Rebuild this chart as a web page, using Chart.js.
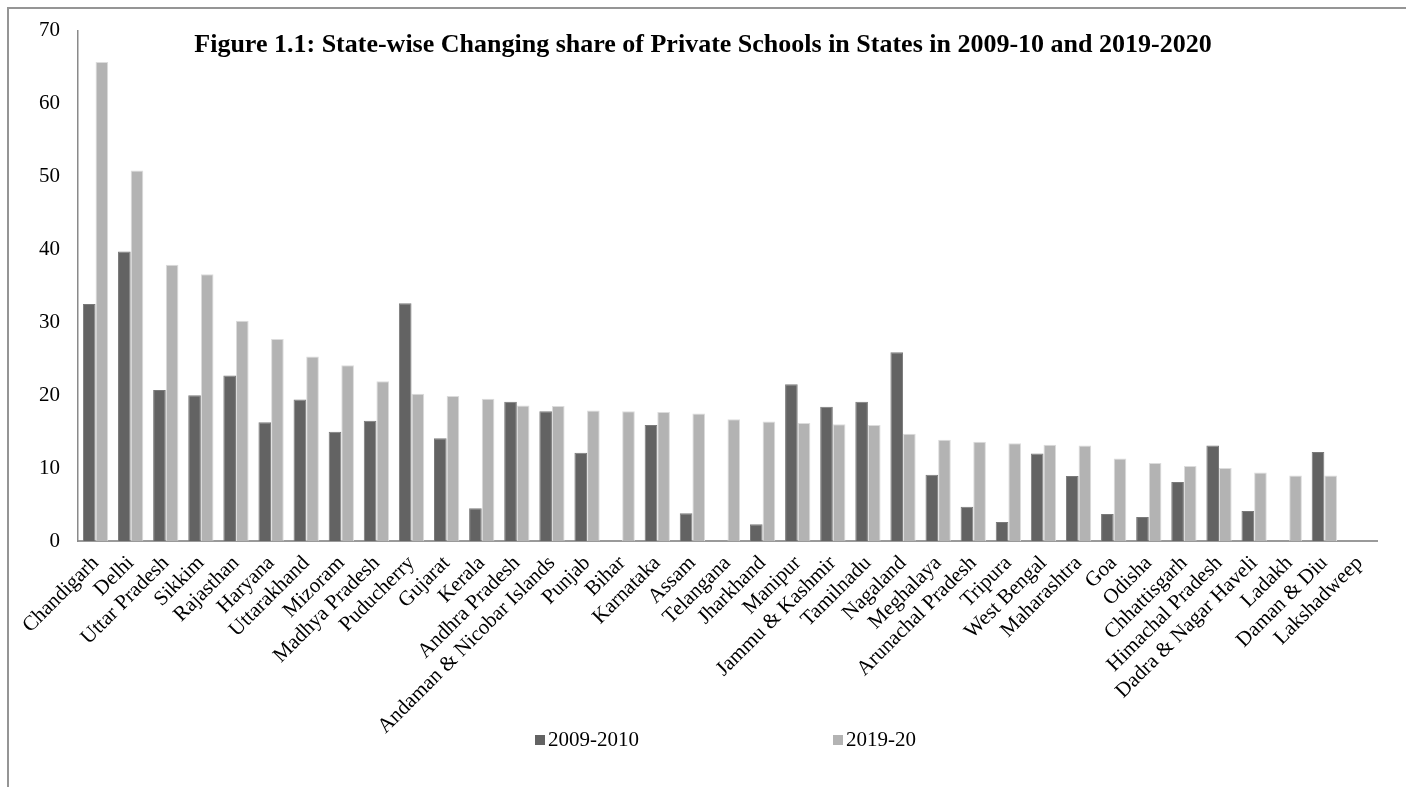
<!DOCTYPE html>
<html>
<head>
<meta charset="utf-8">
<script src="https://cdn.jsdelivr.net/npm/chart.js@4/dist/chart.umd.min.js"></script>
<style>
  html, body { margin: 0; padding: 0; background: #fff; }
  #wrap { position: relative; width: 1406px; height: 787px; overflow: hidden; }
  #frame { position: absolute; left: 7px; top: 7px; width: 1420px; height: 800px;
           border-left: 2px solid #959595; border-top: 2px solid #959595; box-sizing: border-box; }
  #chartBox { position: absolute; left: 0; top: 0; width: 1406px; height: 787px; }
  #title { position: absolute; left: 0; width: 1406px; top: 29px; text-align: center;
           font: bold 26px/30px "Liberation Serif", "Times New Roman", serif; color: #000; white-space: nowrap; }
  .leg { position: absolute; top: 727px; font: 21px/24px "Liberation Serif", "Times New Roman", serif; color: #000; white-space: nowrap; }
  .leg i { display: inline-block; width: 10px; height: 10px; margin-right: 3px; vertical-align: 1px; }
</style>
</head>
<body>
<div id="wrap">
  <div id="frame"></div>
  <div id="chartBox"><canvas id="c"></canvas></div>
  <div id="title">Figure 1.1: State-wise Changing share of Private Schools in States in 2009-10 and 2019-2020</div>
  <div class="leg" style="left:535px"><i style="background:#636363"></i>2009-2010</div>
  <div class="leg" style="left:833px"><i style="background:#b3b3b3"></i>2019-20</div>
</div>
<script>
// States, ordered by private-school share in 2019-20
const states = [
  "Chandigarh", "Delhi", "Uttar Pradesh", "Sikkim", "Rajasthan", "Haryana",
  "Uttarakhand", "Mizoram", "Madhya Pradesh", "Puducherry", "Gujarat", "Kerala",
  "Andhra Pradesh", "Andaman & Nicobar Islands", "Punjab", "Bihar", "Karnataka",
  "Assam", "Telangana", "Jharkhand", "Manipur", "Jammu & Kashmir", "Tamilnadu",
  "Nagaland", "Meghalaya", "Arunachal Pradesh", "Tripura", "West Bengal",
  "Maharashtra", "Goa", "Odisha", "Chhattisgarh", "Himachal Pradesh",
  "Dadra & Nagar Haveli", "Ladakh", "Daman & Diu", "Lakshadweep"
];

// Share of private schools (%), 2009-2010
const share2009 = [
  32.5, 39.7, 20.7, 20.0, 22.7, 16.3,
  19.4, 15.0, 16.5, 32.6, 14.1, 4.5,
  19.1, 17.8, 12.1, 0, 15.9,
  3.8, 0, 2.3, 21.5, 18.4, 19.1,
  25.9, 9.1, 4.7, 2.6, 12.0,
  8.9, 3.7, 3.3, 8.1, 13.1,
  4.1, 0, 12.2, 0
];

// Share of private schools (%), 2019-20
const share2019 = [
  65.7, 50.8, 37.9, 36.6, 30.2, 27.7,
  25.3, 24.1, 21.9, 20.2, 19.9, 19.5,
  18.6, 18.5, 17.9, 17.8, 17.7,
  17.5, 16.7, 16.4, 16.2, 16.0, 15.9,
  14.7, 13.9, 13.6, 13.4, 13.2,
  13.1, 11.3, 10.7, 10.3, 10.0,
  9.4, 9.0, 9.0, 0
];

const yTicks = [0, 10, 20, 30, 40, 50, 60, 70];

const serif = '"Liberation Serif", "Times New Roman", serif';

new Chart(document.getElementById('c'), {
  type: 'bar',
  data: {
    labels: states,
    datasets: [
      { label: '2009-2010', data: share2009, backgroundColor: '#636363',
        borderColor: '#7a7a7a', borderWidth: 1 },
      { label: '2019-20', data: share2019, backgroundColor: '#b3b3b3',
        borderColor: '#dcdcdc', borderWidth: 1 }
    ]
  },
  options: {
    responsive: true,
    maintainAspectRatio: false,
    animation: false,
    layout: { padding: { top: 23, right: 29, left: 0, bottom: 0 } },
    datasets: { bar: { categoryPercentage: 0.72, barPercentage: 1.0 } },
    plugins: {
      legend: { display: false },
      title: { display: false },
      tooltip: { enabled: false }
    },
    scales: {
      x: {
        grid: { display: false, drawTicks: false },
        border: { display: true, color: '#9a9a9a', width: 2 },
        ticks: {
          color: '#000', font: { family: serif, size: 21 },
          minRotation: 45, maxRotation: 45, autoSkip: false, padding: 10
        },
        afterFit: s => { s.height = 246; }
      },
      y: {
        min: 0, max: 70,
        grid: { display: false, drawTicks: false },
        border: { display: true, color: '#8a8a8a', width: 1.5 },
        afterBuildTicks: s => { s.ticks = yTicks.map(v => ({ value: v })); },
        ticks: { color: '#000', font: { family: serif, size: 21 }, padding: 18 },
        afterFit: s => { s.width = 78; }
      }
    }
  }
});
</script>
</body>
</html>
